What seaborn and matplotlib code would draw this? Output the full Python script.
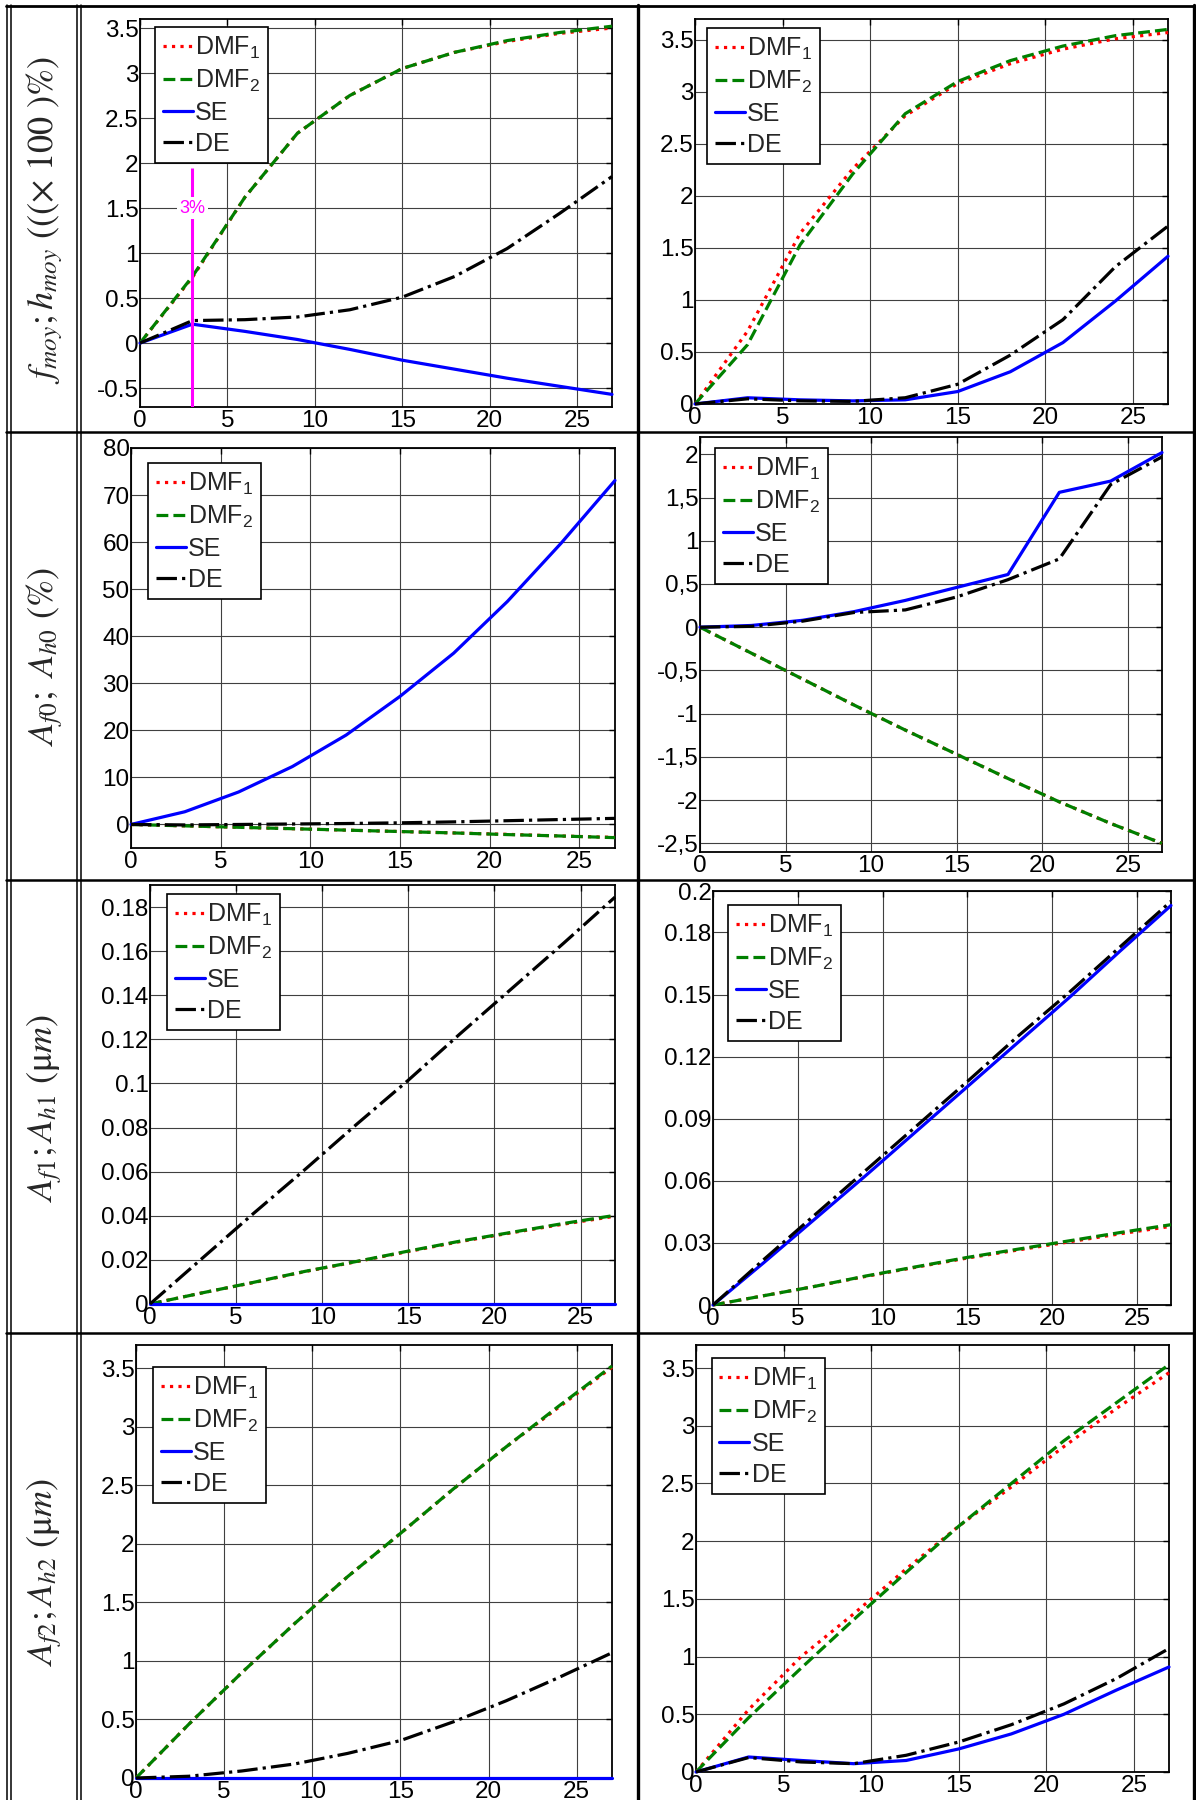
import matplotlib
matplotlib.use("Agg")
import matplotlib.pyplot as plt
import seaborn as sns
from matplotlib.lines import Line2D

# ---------------- data ----------------
x = [0, 3, 6, 9, 12, 15, 18, 21, 24, 27]
series_names = ["DMF$_1$", "DMF$_2$", "SE", "DE"]

# row 1 : f_moy ; h_moy
r1l_dmf1 = [0, 0.73, 1.62, 2.33, 2.75, 3.05, 3.23, 3.35, 3.44, 3.50]
r1l_dmf2 = [0, 0.74, 1.62, 2.33, 2.75, 3.05, 3.23, 3.36, 3.45, 3.52]
r1l_se = [0, 0.21, 0.13, 0.04, -0.07, -0.19, -0.29, -0.39, -0.48, -0.57]
r1l_de = [0, 0.25, 0.26, 0.29, 0.37, 0.51, 0.74, 1.05, 1.44, 1.85]

r1r_dmf1 = [0, 0.70, 1.64, 2.26, 2.77, 3.08, 3.27, 3.41, 3.51, 3.57]
r1r_dmf2 = [0, 0.57, 1.53, 2.21, 2.79, 3.10, 3.30, 3.44, 3.54, 3.60]
r1r_se = [0, 0.06, 0.04, 0.03, 0.04, 0.12, 0.31, 0.59, 0.99, 1.42]
r1r_de = [0, 0.05, 0.03, 0.025, 0.06, 0.19, 0.47, 0.81, 1.32, 1.71]

# row 2 : A_f0 ; A_h0
r2l_dmf1 = [0, -0.3, -0.6, -0.9, -1.2, -1.5, -1.8, -2.1, -2.45, -2.75]
r2l_dmf2 = [0, -0.3, -0.6, -0.9, -1.2, -1.5, -1.8, -2.15, -2.45, -2.8]
r2l_se = [0, 2.7, 6.9, 12.3, 19.0, 27.2, 36.4, 47.4, 59.8, 73.1]
r2l_de = [0, -0.1, 0.0, 0.1, 0.2, 0.35, 0.55, 0.8, 1.05, 1.3]

r2r_dmf1 = [0, -0.3, -0.6, -0.9, -1.19, -1.47, -1.75, -2.02, -2.27, -2.5]
r2r_dmf2 = [0, -0.3, -0.6, -0.9, -1.19, -1.47, -1.75, -2.02, -2.27, -2.5]
r2r_se = [0, 0.02, 0.08, 0.18, 0.31, 0.46, 0.61, 1.56, 1.69, 2.02]
r2r_de = [0, 0.01, 0.07, 0.17, 0.20, 0.35, 0.55, 0.79, 1.65, 1.97]

# row 3 : A_f1 ; A_h1
r3l_dmf1 = [0, 0.005, 0.0097, 0.0147, 0.0192, 0.0238, 0.0283, 0.0323, 0.0362, 0.0398]
r3l_dmf2 = [0, 0.005, 0.0098, 0.0148, 0.0193, 0.0240, 0.0285, 0.0325, 0.0365, 0.0402]
r3l_se = [0, 0, 0, 0, 0, 0, 0, 0, 0, 0]
r3l_de = [0, 0.0205, 0.041, 0.061, 0.0815, 0.1015, 0.1225, 0.143, 0.1635, 0.1845]

r3r_dmf1 = [0, 0.0045, 0.009, 0.0138, 0.0183, 0.0227, 0.0266, 0.0305, 0.0344, 0.038]
r3r_dmf2 = [0, 0.0045, 0.009, 0.014, 0.0185, 0.023, 0.027, 0.031, 0.035, 0.0388]
r3r_se = [0, 0.0205, 0.0415, 0.0625, 0.084, 0.1055, 0.127, 0.1485, 0.171, 0.193]
r3r_de = [0, 0.022, 0.0435, 0.065, 0.0865, 0.108, 0.13, 0.151, 0.173, 0.195]

# row 4 : A_f2 ; A_h2
r4l_dmf1 = [0, 0.46, 0.9, 1.32, 1.72, 2.09, 2.47, 2.83, 3.17, 3.51]
r4l_dmf2 = [0, 0.46, 0.9, 1.32, 1.72, 2.09, 2.47, 2.83, 3.18, 3.52]
r4l_se = [0, 0, 0, 0, 0, 0, 0, 0, 0, 0]
r4l_de = [0, 0.015, 0.06, 0.12, 0.21, 0.32, 0.48, 0.66, 0.86, 1.07]

r4r_dmf1 = [0, 0.54, 1.0, 1.37, 1.76, 2.13, 2.47, 2.82, 3.15, 3.46]
r4r_dmf2 = [0, 0.47, 0.9, 1.32, 1.73, 2.13, 2.5, 2.87, 3.2, 3.53]
r4r_se = [0, 0.13, 0.1, 0.072, 0.1, 0.2, 0.33, 0.5, 0.71, 0.91]
r4r_de = [0, 0.125, 0.087, 0.072, 0.145, 0.26, 0.41, 0.59, 0.81, 1.07]

# ticks
xticks = [0, 5, 10, 15, 20, 25]
xtick_labels = ["0", "5", "10", "15", "20", "25"]
y_half = [0, 0.5, 1, 1.5, 2, 2.5, 3, 3.5]
y_half_labels = ["0", "0.5", "1", "1.5", "2", "2.5", "3", "3.5"]
r1l_yticks = [-0.5] + y_half
r1l_ylabels = ["-0.5"] + y_half_labels
r2l_yticks = [0, 10, 20, 30, 40, 50, 60, 70, 80]
r2l_ylabels = ["0", "10", "20", "30", "40", "50", "60", "70", "80"]
r2r_yticks = [-2.5, -2, -1.5, -1, -0.5, 0, 0.5, 1, 1.5, 2]
r2r_ylabels = ["-2,5", "-2", "-1,5", "-1", "-0,5", "0", "0,5", "1", "1,5", "2"]
r3l_yticks = [0, 0.02, 0.04, 0.06, 0.08, 0.1, 0.12, 0.14, 0.16, 0.18]
r3l_ylabels = ["0", "0.02", "0.04", "0.06", "0.08", "0.1", "0.12", "0.14", "0.16", "0.18"]
r3r_yticks = [0, 0.03, 0.06, 0.09, 0.12, 0.15, 0.18, 0.2]
r3r_ylabels = ["0", "0.03", "0.06", "0.09", "0.12", "0.15", "0.18", "0.2"]

row_labels = [
    r"$f_{moy}; h_{moy}$ (((× 100 )%)",
    r"$A_{f0};\ A_{h0}$ (%)",
    r"$A_{f1}; A_{h1}$ (μ$m$)",
    r"$A_{f2}; A_{h2}$ (μ$m$)",
]
threshold_x = 3
threshold_top = 1.95
threshold_label = "3%"

# ---------------- style ----------------
sns.set_style("white")
plt.rcParams["font.family"] = ["Liberation Sans", "DejaVu Sans"]
plt.rcParams["mathtext.fontset"] = "custom"
plt.rcParams["mathtext.rm"] = "Liberation Sans"
plt.rcParams["mathtext.it"] = "Liberation Sans:italic"
plt.rcParams["mathtext.bf"] = "Liberation Sans:bold"

W, H = 1196, 1800
fig = plt.figure(figsize=(W / 100, H / 100), dpi=100)
fig.patch.set_facecolor("white")

colors = ["#FF0000", "#008000", "#0000FF", "#000000"]
styles = [":", "--", "-", "-."]

def rect(l, r, t, b):
    return [l / W, 1 - b / H, (r - l) / W, (b - t) / H]

panels = [
    # (l, r, t, b), series, ylim, yticks, ylabels, legend offset px
    ((140, 612, 19, 407), [r1l_dmf1, r1l_dmf2, r1l_se, r1l_de], (-0.71, 3.6), r1l_yticks, r1l_ylabels, (15, 8)),
    ((695, 1168, 19, 404), [r1r_dmf1, r1r_dmf2, r1r_se, r1r_de], (0, 3.7), y_half, y_half_labels, (12, 9)),
    ((131, 615, 448, 848), [r2l_dmf1, r2l_dmf2, r2l_se, r2l_de], (-5, 80), r2l_yticks, r2l_ylabels, (17, 15)),
    ((700, 1162, 437, 852), [r2r_dmf1, r2r_dmf2, r2r_se, r2r_de], (-2.6, 2.2), r2r_yticks, r2r_ylabels, (15, 11)),
    ((150, 615, 885, 1304), [r3l_dmf1, r3l_dmf2, r3l_se, r3l_de], (0, 0.19), r3l_yticks, r3l_ylabels, (17, 9)),
    ((713, 1171, 891, 1305), [r3r_dmf1, r3r_dmf2, r3r_se, r3r_de], (0, 0.2), r3r_yticks, r3r_ylabels, (15, 14)),
    ((136, 612, 1345, 1778), [r4l_dmf1, r4l_dmf2, r4l_se, r4l_de], (0, 3.7), y_half, y_half_labels, (17, 22)),
    ((696, 1169, 1345, 1772), [r4r_dmf1, r4r_dmf2, r4r_se, r4r_de], (0, 3.7), y_half, y_half_labels, (16, 13)),
]

axes = []
for (box, series, ylim, yt, ytl, loff) in panels:
    l, r, t, b = box
    ax = fig.add_axes(rect(l, r, t, b))
    axes.append(ax)
    for vals, name, c, ls in zip(series, series_names, colors, styles):
        sns.lineplot(x=x, y=vals, ax=ax, color=c, linestyle=ls, linewidth=2.3,
                     label=name, clip_on=False, zorder=3)
    ax.set_xlim(0, 27)
    ax.set_ylim(*ylim)
    ax.set_xticks(xticks)
    ax.set_xticklabels(xtick_labels)
    ax.set_yticks(yt)
    ax.set_yticklabels(ytl)
    ax.grid(True, color="#404040", linewidth=0.8, linestyle="-")
    ax.set_axisbelow(True)
    for s in ax.spines.values():
        s.set_color("black")
        s.set_linewidth(1.3)
        s.set_visible(True)
    ax.tick_params(direction="in", top=True, right=True, length=4, width=1,
                   labelsize=17.5, pad=2, colors="black")
    ax.tick_params(axis="y", pad=1)
    ax.set_xlabel("")
    ax.set_ylabel("")
    wpx, hpx = r - l, b - t
    leg = ax.legend(loc="upper left", bbox_to_anchor=(loff[0] / wpx, 1 - loff[1] / hpx),
                    borderaxespad=0, frameon=True, fancybox=False, edgecolor="black",
                    framealpha=1, fontsize=18, handlelength=1.2, handletextpad=0.1,
                    labelspacing=0.28, borderpad=0.3)
    leg.get_frame().set_linewidth(1.2)
    leg.set_zorder(5)

# threshold marker on the first panel
ax0 = axes[0]
ax0.vlines(threshold_x, ax0.get_ylim()[0], threshold_top, color="#FF00FF", linewidth=2.2, zorder=4)
ax0.text(threshold_x, 1.5, threshold_label, color="#FF00FF", fontsize=13, ha="center", va="center",
         zorder=4, bbox=dict(facecolor="white", edgecolor="none", pad=1.5))

# row labels in first column
row_centers = [220, 657, 1108, 1572]
for lab, yc in zip(row_labels, row_centers):
    fig.text(45 / W, 1 - yc / H, lab, rotation=90, ha="center", va="center",
             fontsize=26, family="STIXGeneral", math_fontfamily="stix")

# table borders
def hline(y, x0, x1, lw):
    fig.add_artist(Line2D([x0 / W, x1 / W], [1 - y / H, 1 - y / H], color="black",
                          linewidth=lw, transform=fig.transFigure))

def vline(xp, y0, y1, lw):
    fig.add_artist(Line2D([xp / W, xp / W], [1 - y0 / H, 1 - y1 / H], color="black",
                          linewidth=lw, transform=fig.transFigure))

hline(6, 6, 1195, 2.0)
for yy in [432, 880, 1333]:
    hline(yy, 6, 1195, 1.8)
for xx in [7, 10.5, 77, 81]:
    vline(xx, 5, 1800, 1.1)
vline(638, 5, 1800, 2.4)
vline(1194, 5, 1800, 2.4)

fig.savefig("out.png", dpi=100, facecolor="white")
